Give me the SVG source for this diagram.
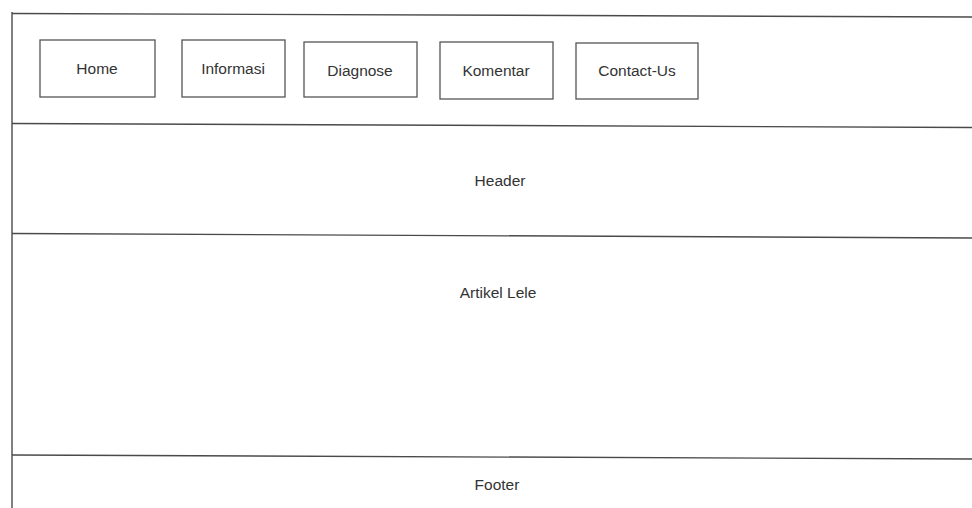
<svg xmlns="http://www.w3.org/2000/svg" width="972" height="508" viewBox="0 0 972 508">
  <style>
    .rule { stroke: #4a4a4a; stroke-width: 1.4; fill: none; }
    .btn { stroke: #555; stroke-width: 1.3; fill: #fff; }
    .lbl { font-family: "Liberation Sans", Arial, sans-serif; font-size: 15.5px; fill: #333; text-anchor: middle; }
  </style>
  <rect width="972" height="508" fill="#fff"/>

  <!-- page frame: left edge and section dividers -->
  <g id="frame">
    <line class="rule" x1="12" y1="12" x2="12" y2="508"/>
    <line class="rule" x1="12" y1="13.5" x2="972" y2="17"/>
    <line class="rule" x1="12" y1="123.5" x2="972" y2="127.5"/>
    <line class="rule" x1="12" y1="233.5" x2="972" y2="238"/>
    <line class="rule" x1="12" y1="455" x2="972" y2="459"/>
  </g>

  <!-- navigation buttons -->
  <g id="nav-home">
    <rect class="btn" x="40" y="40" width="115" height="57"/>
    <text class="lbl" x="97" y="74">Home</text>
  </g>
  <g id="nav-informasi">
    <rect class="btn" x="182" y="40" width="103" height="57"/>
    <text class="lbl" x="233" y="74">Informasi</text>
  </g>
  <g id="nav-diagnose">
    <rect class="btn" x="304" y="42" width="113" height="55"/>
    <text class="lbl" x="360" y="76">Diagnose</text>
  </g>
  <g id="nav-komentar">
    <rect class="btn" x="440" y="42" width="113" height="57"/>
    <text class="lbl" x="496" y="76">Komentar</text>
  </g>
  <g id="nav-contact">
    <rect class="btn" x="576" y="43" width="122" height="56"/>
    <text class="lbl" x="637" y="76">Contact-Us</text>
  </g>

  <!-- page sections -->
  <g id="header">
    <text class="lbl" x="500" y="186">Header</text>
  </g>
  <g id="artikel">
    <text class="lbl" x="498" y="298">Artikel Lele</text>
  </g>
  <g id="footer">
    <text class="lbl" x="497" y="490">Footer</text>
  </g>

  <g id="connectors"/>
</svg>
